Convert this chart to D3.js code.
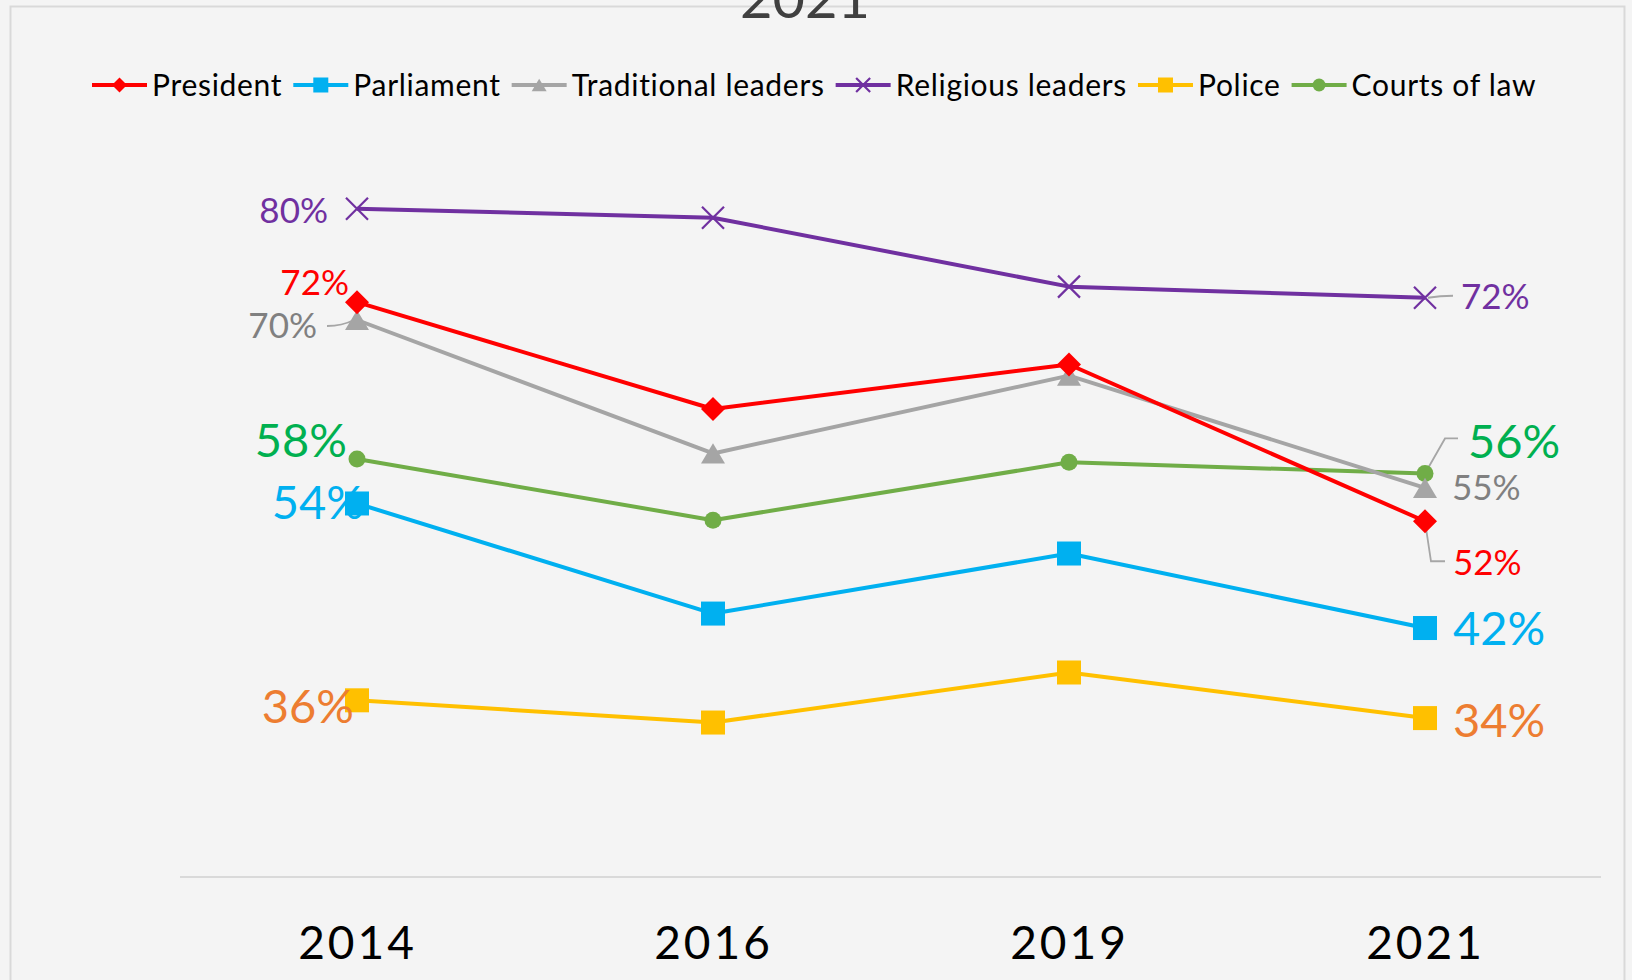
<!DOCTYPE html>
<html><head><meta charset="utf-8">
<script src="https://cdn.jsdelivr.net/npm/d3@7"></script>
<style>html,body{margin:0;padding:0;background:#f4f4f4;overflow:hidden}</style>
</head><body><svg id="c" width="1632" height="980"></svg>
<script>
const years = ["2014","2016","2019","2021"];
const seriesNames = ["President","Parliament","Traditional leaders","Religious leaders","Police","Courts of law"];
const president = [71.6, 62, 66, 51.9];
const parliament = [53.5, 43.6, 49, 42.3];
const traditional = [70, 58, 65, 54.9];
const religious = [80, 79.2, 73, 72];
const police = [35.8, 33.8, 38.3, 34.2];
const courts = [57.5, 52, 57.2, 56.2];
const titleText = "2021";

const values = [president, parliament, traditional, religious, police, courts];
const colors = ["#FF0000","#00B0F0","#A5A5A5","#7030A0","#FFC000","#70AD47"];
const markers = ["diamond","square","triangle","x","square","circle"];
const markerSize = [24, 24, 24, 22, 24, 17];
const legendMarkerSize = [15, 15, 15, 14, 15, 13];
const labelStyle = [
  {f:{dx:-8,dy:-19,s:35,c:"#FF0000"}, l:{dx:28,dy:41,s:35,c:"#FF0000"}},
  {f:{dx:7,dy:-1,s:47,c:"#00B0F0"}, l:{dx:28,dy:1,s:47,c:"#00B0F0"}},
  {f:{dx:-40,dy:6,s:35,c:"#808080"}, l:{dx:27,dy:0,s:35,c:"#808080"}},
  {f:{dx:-29,dy:2,s:35,c:"#7030A0"}, l:{dx:36,dy:-1,s:35,c:"#7030A0"}},
  {f:{dx:-3,dy:6,s:47,c:"#ED7D31"}, l:{dx:28,dy:2,s:47,c:"#ED7D31"}},
  {f:{dx:-10,dy:-18,s:47,c:"#00B050"}, l:{dx:43,dy:-32,s:47,c:"#00B050"}}
];
const FONT = "Lato, 'DejaVu Sans', sans-serif";

const svg = d3.select("#c");
svg.append("rect").attr("x",0).attr("y",0).attr("width",1632).attr("height",980).attr("fill","#f4f4f4");
svg.append("rect").attr("x",10.5).attr("y",6.5).attr("width",1614).attr("height",990)
  .attr("fill","#f4f4f4").attr("stroke","#d9d9d9").attr("stroke-width",2);

svg.append("text").attr("x",805).attr("y",18).attr("text-anchor","middle")
  .attr("font-family",FONT).attr("font-size",56).attr("fill","#404040").text(titleText);

const x = d3.scalePoint().domain(years).range([357,1425]).padding(0);
const y = d3.scaleLinear().domain([20,90]).range([876, 876-70*11.12]);

svg.append("line").attr("x1",180).attr("x2",1601).attr("y1",877).attr("y2",877)
  .attr("stroke","#d9d9d9").attr("stroke-width",2);
const ax = svg.append("g").attr("transform","translate(0,877)")
  .call(d3.axisBottom(x).tickSize(0).tickPadding(66));
ax.select(".domain").remove();
ax.selectAll("text").attr("font-family",FONT).attr("font-size",46).attr("fill","#000")
  .attr("letter-spacing","3px").attr("dy","0.35em");

function drawMarker(g, type, cx, cy, s, color){
  if(type==="square"){
    g.append("rect").attr("x",cx-s/2).attr("y",cy-s/2).attr("width",s).attr("height",s).attr("fill",color);
  } else if(type==="diamond"){
    const h=s/2;
    g.append("path").attr("d",`M${cx},${cy-h}L${cx+h},${cy}L${cx},${cy+h}L${cx-h},${cy}Z`).attr("fill",color);
  } else if(type==="triangle"){
    const w=s/2, h=s*0.42;
    g.append("path").attr("d",`M${cx},${cy-h}L${cx+w},${cy+h}L${cx-w},${cy+h}Z`).attr("fill",color);
  } else if(type==="circle"){
    g.append("circle").attr("cx",cx).attr("cy",cy).attr("r",s/2).attr("fill",color);
  } else if(type==="x"){
    const h=s/2;
    g.append("path").attr("d",`M${cx-h},${cy-h}L${cx+h},${cy+h}M${cx-h},${cy+h}L${cx+h},${cy-h}`)
      .attr("stroke",color).attr("stroke-width",2.2).attr("fill","none");
  }
}

const line = d3.line().x((d,i)=>x(years[i])).y(d=>y(d));

const lead = svg.append("g").attr("stroke","#a6a6a6").attr("stroke-width",1.8).attr("fill","none");
function P(si, i){ return [x(years[i]), y(values[si][i])]; }
{ const [px,py]=P(2,0); lead.append("path").attr("d",`M${px-30},${py+6}Q${px-15},${py+6} ${px-3},${py}`); }
{ const [px,py]=P(3,3); lead.append("path").attr("d",`M${px+3},${py}Q${px+15},${py-2} ${px+28},${py-2}`); }
{ const [px,py]=P(5,3); lead.append("path").attr("d",`M${px},${py}L${px+20},${py-35}L${px+33},${py-35}`); }
{ const [px,py]=P(0,3); lead.append("path").attr("d",`M${px},${py}L${px+6},${py+40}L${px+20},${py+40}`); }

const order = [4,1,5,2,0,3];
order.forEach(si=>{
  svg.append("path").datum(values[si]).attr("d",line).attr("fill","none")
    .attr("stroke",colors[si]).attr("stroke-width",4).attr("stroke-linejoin","round");
});
order.forEach(si=>{
  const g = svg.append("g");
  values[si].forEach((v,i)=>drawMarker(g, markers[si], x(years[i]), y(v), markerSize[si], colors[si]));
});

const lbl = svg.append("g").attr("font-family",FONT);
values.forEach((vals,si)=>{
  [[0,"f","end"],[vals.length-1,"l","start"]].forEach(([i,k,anchor])=>{
    const st = labelStyle[si][k];
    lbl.append("text").attr("x",x(years[i])+st.dx).attr("y",y(vals[i])+st.dy)
      .attr("dy","0.35em").attr("text-anchor",anchor).attr("font-size",st.s)
      .attr("fill",st.c).text(Math.round(vals[i])+"%");
  });
});

const leg = svg.append("g").attr("font-family",FONT).attr("font-size",30).attr("letter-spacing","0.7px");
let lx = 92; const ly = 85;
seriesNames.forEach((nm,si)=>{
  const g = leg.append("g");
  g.append("line").attr("x1",lx).attr("x2",lx+55).attr("y1",ly).attr("y2",ly)
    .attr("stroke",colors[si]).attr("stroke-width",4);
  drawMarker(g, markers[si], lx+27.5, ly, legendMarkerSize[si], colors[si]);
  const t = g.append("text").attr("x",lx+60).attr("y",ly).attr("dy","0.35em").attr("fill","#000").text(nm);
  lx += 60 + t.node().getComputedTextLength() + 11;
});
</script></body></html>
